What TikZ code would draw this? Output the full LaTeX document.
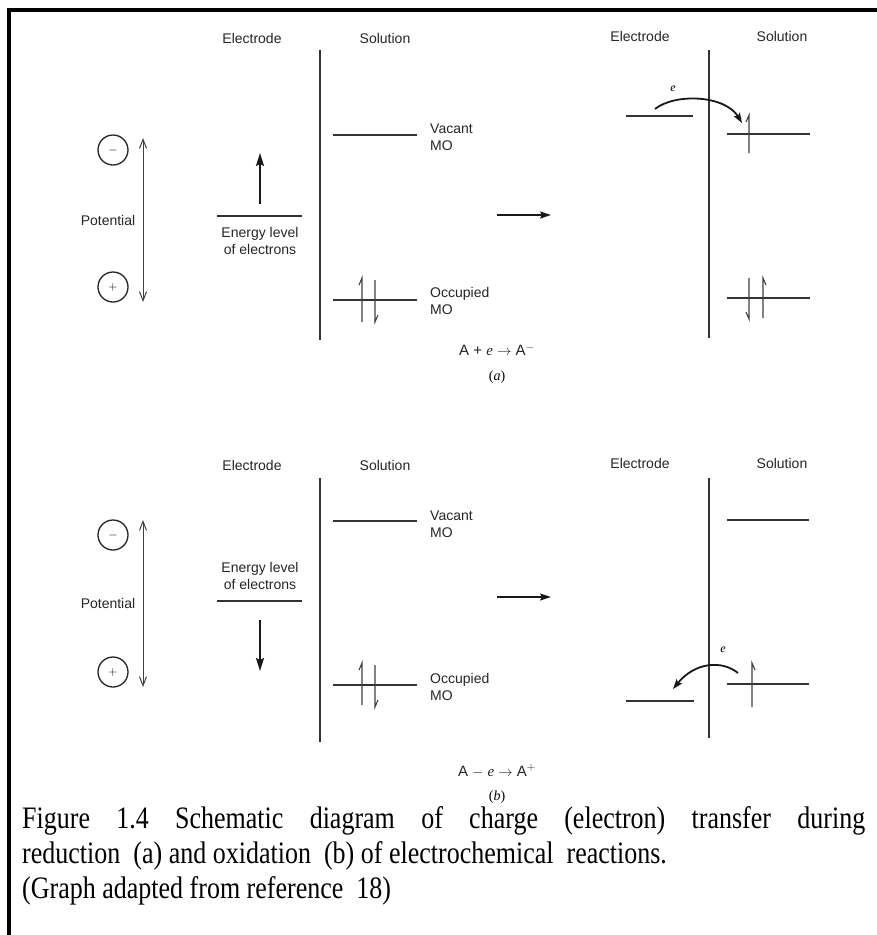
\documentclass[tikz,border=0pt]{standalone}
\usepackage{fontspec}
\setmainfont{Liberation Serif}
\setsansfont{Liberation Sans}
\usetikzlibrary{arrows.meta}
\newcommand\myUpL[3]{\draw[spin] (#1,#3) -- (#1,#2) -- ++(-3,7);}
\newcommand\myUpR[3]{\draw[spin] (#1,#3) -- (#1,#2) -- ++(3,7);}
\newcommand\myDnR[3]{\draw[spin] (#1,#2) -- (#1,#3) -- ++(3,-7);}
\newcommand\myDnL[3]{\draw[spin] (#1,#2) -- (#1,#3) -- ++(-3,-7);}
\newcommand\myTall[1]{\scalebox{1}[1.2]{#1}}
\begin{document}
\begin{tikzpicture}[x=1pt,y=-1pt,
  lbl/.style={font=\sffamily\fontsize{14}{17}\selectfont, inner sep=0pt, text=black!85},
  eqn/.style={font=\sffamily\fontsize{15}{17}\selectfont, inner sep=0pt, text=black!85},
  captext/.style={font=\rmfamily\fontsize{26}{34}\selectfont, inner sep=0pt, anchor=base west},
  lvl/.style={line width=1.6pt, draw=black!80},
  wall/.style={line width=2pt, draw=black!80},
  spin/.style={line width=1.1pt, draw=black!75},
  potarrow/.style={line width=1pt, draw=black!75, {Straight Barb[length=9pt,width=7pt]}-{Straight Barb[length=9pt,width=7pt]}},
  bigarrow/.style={line width=1.8pt, draw=black!90, -{Stealth[length=13pt,width=8pt,inset=2pt]}},
  midarrow/.style={line width=1.6pt, draw=black!90, -{Stealth[length=11pt,width=7pt,inset=2pt]}},
  earrow/.style={line width=1.8pt, draw=black!90, -{Stealth[length=10pt,width=7pt,inset=2pt]}},
  pm/.style={circle, draw=black!85, line width=1.3pt, minimum size=30pt, inner sep=0pt, font=\sffamily\fontsize{13}{13}\selectfont}
]
\useasboundingbox (0,0) rectangle (877,935);
\fill[white] (0,0) rectangle (877,935);
% frame
\draw[line width=4.6pt, line cap=rect] (877,10) -- (9,10) -- (9,935);

% ================= panel (a) =================
\node[lbl] (elA1) at (252,38) {Electrode};
\node[lbl] (soA1) at (385,38) {Solution};
\node[lbl] (elA2) at (640,36) {Electrode};
\node[lbl] (soA2) at (782,36) {Solution};

\draw[wall] (320,50) -- (320,340);
\draw[wall] (709,50) -- (709,338);

\node[pm] (minusA) at (113,150) {$-$};
\node[pm] (plusA) at (113,287) {$+$};
\draw[potarrow] (143,138) -- (143,302);
\node[lbl] (potA) at (108,220) {Potential};

\draw[lvl] (217,216) -- (302,216);
\node[lbl, align=center] (enA) at (260,241) {Energy level\\of electrons};
\draw[bigarrow] (260,204) -- (260,153);

\draw[lvl] (333,135) -- (417,135);
\node[lbl, anchor=west, align=left] (vacA) at (430,137) {Vacant\\MO};
\draw[lvl] (333,300) -- (417,300);
\node[lbl, anchor=west, align=left] (occA) at (430,301) {Occupied\\MO};
\myUpL{362}{278}{322}
\myDnR{375}{280}{322}

\draw[midarrow] (497,215) -- (551,215);

\draw[lvl] (626,116) -- (693,116);
\draw[lvl] (727,134) -- (810,134);
\myUpL{749}{115}{153}
\draw[lvl] (727,298) -- (810,298);
\myDnL{749}{278}{319}
\myUpR{763}{278}{318}
\coordinate (eA1) at (655,109);
\coordinate (eA2) at (742,123);
\draw[earrow] (eA1) .. controls (675,93) and (725,95) .. (eA2);
\node[font=\rmfamily\itshape\fontsize{12}{12}\selectfont, inner sep=0pt] (eLA) at (673,89) {e};

\node[eqn] (eqA) at (497,350) {A + {\rmfamily\itshape e} $\rightarrow$ A$^{-}$};
\node[font=\rmfamily\fontsize{14}{16}\selectfont, inner sep=0pt] (subA) at (497,377) {(\textit{a})};

% ================= panel (b) =================
\node[lbl] (elB1) at (252,465) {Electrode};
\node[lbl] (soB1) at (385,465) {Solution};
\node[lbl] (elB2) at (640,463) {Electrode};
\node[lbl] (soB2) at (782,463) {Solution};

\draw[wall] (320,478) -- (320,742);
\draw[wall] (709,478) -- (709,738);

\node[pm] (minusB) at (113,535) {$-$};
\node[pm] (plusB) at (113,672) {$+$};
\draw[potarrow] (143,520) -- (143,687);
\node[lbl] (potB) at (108,603) {Potential};

\node[lbl, align=center] (enB) at (260,576) {Energy level\\of electrons};
\draw[lvl] (217,601) -- (302,601);
\draw[bigarrow] (260,620) -- (260,671);

\draw[lvl] (333,521) -- (417,521);
\node[lbl, anchor=west, align=left] (vacB) at (430,524) {Vacant\\MO};
\draw[lvl] (333,685) -- (417,685);
\node[lbl, anchor=west, align=left] (occB) at (430,687) {Occupied\\MO};
\myUpL{362}{663}{705}
\myDnR{375}{665}{707}

\draw[midarrow] (497,597) -- (551,597);

\draw[lvl] (727,520) -- (809,520);
\draw[lvl] (727,684) -- (809,684);
\myUpR{752}{663}{707}
\draw[lvl] (626,701) -- (694,701);
\coordinate (eB1) at (738,673);
\coordinate (eB2) at (673,689);
\draw[earrow] (eB1) .. controls (722,660) and (695,662) .. (eB2);
\node[font=\rmfamily\itshape\fontsize{12}{12}\selectfont, inner sep=0pt] (eLB) at (723,650) {e};

\node[eqn] (eqB) at (497,771) {A $-$ {\rmfamily\itshape e} $\rightarrow$ A$^{+}$};
\node[font=\rmfamily\fontsize{14}{16}\selectfont, inner sep=0pt] (subB) at (497,797) {(\textit{b})};

% ================= caption =================
\node[captext] (cap1) at (22,828) {\myTall{\makebox[843pt][s]{Figure 1.4 Schematic diagram of charge (electron) transfer during}}};
\node[captext] (cap2) at (22,863) {\myTall{reduction\ \ (a) and oxidation\ \ (b) of electrochemical\ \ reactions.}};
\node[captext] (cap3) at (22,898) {\myTall{(Graph adapted from reference\ \ 18)}};
\end{tikzpicture}
\end{document}
